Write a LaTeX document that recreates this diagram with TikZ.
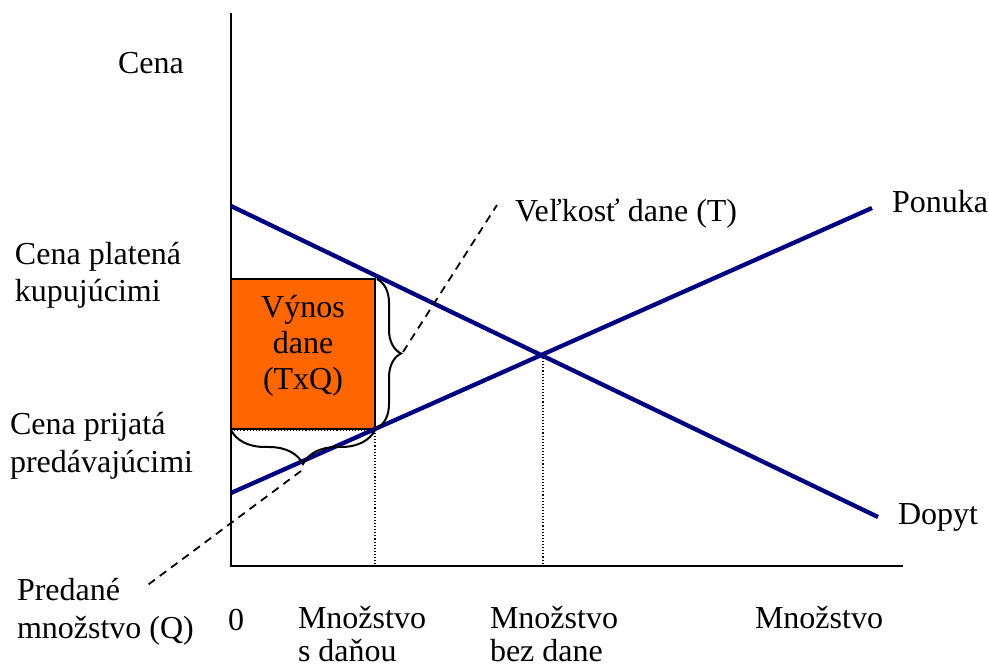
\documentclass[tikz,border=0pt]{standalone}
\usepackage{fontspec}
\setmainfont{Liberation Serif}
\usetikzlibrary{decorations.pathreplacing}
\definecolor{curveblue}{RGB}{0,0,128}
\definecolor{revorange}{RGB}{255,102,0}
\begin{document}
\begin{tikzpicture}[x=1pt,y=-1pt,
  every node/.style={font=\fontsize{32}{38}\selectfont, inner sep=0pt, outer sep=0pt},
  lbl/.style={anchor=base west},
  curve/.style={draw=curveblue, line width=4.3pt},
  axisline/.style={draw=black, line width=2.2pt},
  guide/.style={draw=black, line width=1.1pt, dotted},
  leader/.style={draw=black, line width=1.8pt, dash pattern=on 8pt off 6pt},
  bracestyle/.style={draw=black, line width=2pt, decorate}]
\useasboundingbox (0,0) rectangle (989,668);
% coordinates
\coordinate (ytop) at (231,13);
\coordinate (origin) at (231,566);
\coordinate (xend) at (903,566);
\coordinate (dA) at (231,206);
\coordinate (dB) at (878,517);
\coordinate (sA) at (231,493);
\coordinate (sB) at (872,208);
\coordinate (eq) at (543,355);
\coordinate (eqfoot) at (543,566);
\coordinate (rTL) at (231,279);
\coordinate (rBR) at (375,429);
\coordinate (rBL) at (231,430);
\coordinate (rBRb) at (375,430);
\coordinate (qfoot) at (375,566);
\coordinate (brTop) at (377,279);
\coordinate (brBot) at (377,428);
\coordinate (tTip) at (403,352);
\coordinate (tEnd) at (497,205);
\coordinate (qTip) at (301,471);
\coordinate (qEnd) at (145,587);
% rectangle
\filldraw[fill=revorange, draw=black, line width=1.5pt] (rTL) rectangle (rBR);
% guides
\draw[guide] (rBL) -- (rBRb);
\draw[guide] (rBRb) -- (qfoot);
\draw[guide] (eq) -- (eqfoot);
% axes
\draw[axisline] (ytop) -- (origin) -- (xend);
% curves
\draw[curve] (dA) -- (dB);
\draw[curve] (sA) -- (sB);
% braces
\draw[bracestyle, decoration={brace, amplitude=24pt}] (brTop) -- (brBot);
\draw[bracestyle, decoration={brace, amplitude=34pt}] (rBRb) -- (rBL);
% leaders
\draw[leader] (tTip) -- (tEnd);
\draw[leader] (qTip) -- (qEnd);
% labels
\node[lbl] (cena) at (118,74) {Cena};
\node[lbl] (platA) at (15,265) {Cena platená};
\node[lbl] (platB) at (15,302) {kupujúcimi};
\node[lbl] (prijA) at (10,435) {Cena prijatá};
\node[lbl] (prijB) at (10,472) {predávajúcimi};
\node[anchor=base] (vyA) at (303,318) {Výnos};
\node[anchor=base] (vyB) at (303,354) {dane};
\node[anchor=base] (vyC) at (303,390) {(TxQ)};
\node[lbl] (velk) at (515,222) {Veľkosť dane (T)};
\node[lbl] (ponuka) at (892,213) {Ponuka};
\node[lbl] (dopyt) at (898,525) {Dopyt};
\node[lbl] (predA) at (17,600) {Predané};
\node[lbl] (predB) at (17,638) {množstvo (Q)};
\node[lbl] (zero) at (228,630) {0};
\node[lbl] (msA) at (298,628) {Množstvo};
\node[lbl] (msB) at (298,661) {s daňou};
\node[lbl] (mbA) at (490,628) {Množstvo};
\node[lbl] (mbB) at (490,661) {bez dane};
\node[lbl] (mq) at (755,628) {Množstvo};
\end{tikzpicture}
\end{document}
